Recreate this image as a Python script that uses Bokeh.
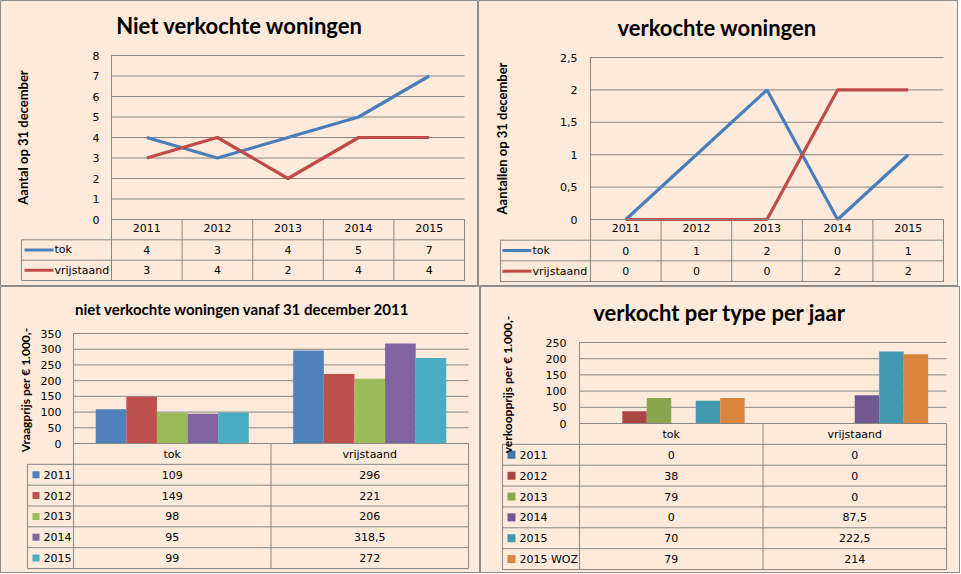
from bokeh.plotting import figure
from bokeh.models import Range1d, LinearAxis, FixedTicker, Label
from bokeh.layouts import column, row
from bokeh.core.properties import value
from bokeh.embed import file_html
from bokeh.resources import INLINE

# ---------------- data ----------------
years = ["2011", "2012", "2013", "2014", "2015"]
niet_tok = [4, 3, 4, 5, 7]
niet_vrij = [3, 4, 2, 4, 4]
niet_ticks = [0, 1, 2, 3, 4, 5, 6, 7, 8]

verk_tok = [0, 1, 2, 0, 1]
verk_vrij = [0, 0, 0, 2, 2]
verk_ticks = [0, 0.5, 1, 1.5, 2, 2.5]

line_series = ["tok", "vrijstaand"]

types = ["tok", "vrijstaand"]
vraag_years = ["2011", "2012", "2013", "2014", "2015"]
vraag_tok = [109, 149, 98, 95, 99]
vraag_vrij = [296, 221, 206, 318.5, 272]
vraag_ticks = [0, 50, 100, 150, 200, 250, 300, 350]

koop_years = ["2011", "2012", "2013", "2014", "2015", "2015 WOZ"]
koop_tok = [0, 38, 79, 0, 70, 79]
koop_vrij = [0, 0, 0, 87.5, 222.5, 214]
koop_ticks = [0, 50, 100, 150, 200, 250]

# ---------------- style ----------------
line_colors = ["#4A7EBB", "#BE4B48"]
vraag_colors = ["#4F81BD", "#C0504D", "#9BBB59", "#8064A2", "#4BACC6"]
koop_colors = ["#4572A7", "#AA4643", "#89A54E", "#71588F", "#4198AF", "#DB843D"]

BG = "#FDEADA"
GRID = "#868686"
EDGE = "#8C8C8C"
NUM_FONT = "DejaVu Sans"
TITLE_FONT = "Lato"


def nl(v):
    return ("%g" % v).replace(".", ",")


class Panel:
    """One chart block: the frame covers the whole block; the table lives below y=0."""

    def __init__(self, W, H, left, right, n, py0, pytop, ymax, row_h):
        self.n = n
        self.ymax = ymax
        self.s = (right - left) / n
        self.x0 = -0.5 - left / self.s
        self.t = (py0 - pytop) / ymax
        self.ytop = ymax + pytop / self.t
        p = figure(width=W, height=H,
                   x_range=Range1d(self.x0, self.x0 + W / self.s),
                   y_range=Range1d(self.ytop - H / self.t, self.ytop),
                   x_axis_type=None, y_axis_type=None, title=None,
                   min_border=0, toolbar_location=None, output_backend="svg",
                   background_fill_color=BG, border_fill_color=BG,
                   outline_line_color=EDGE, outline_line_width=1)
        p.extra_y_ranges = {"tbl": Range1d(-(H - py0) / row_h, py0 / row_h)}
        self.p = p

    def X(self, px):
        return self.x0 + px / self.s

    def Y(self, py):
        return self.ytop - py / self.t

    def title(self, text, cx, cy, size):
        self.p.add_layout(Label(x=self.X(cx), y=self.Y(cy), text=text,
                                text_font=TITLE_FONT, text_font_style="bold",
                                text_font_size=size, text_color="black",
                                text_align="center", text_baseline="middle"))

    def grid(self, ticks):
        n = self.n
        self.p.segment(x0=[-0.5] * len(ticks), x1=[n - 0.5] * len(ticks),
                       y0=ticks, y1=ticks, line_color=GRID, line_width=1)

    def axes(self, ticks, cats, label, lsize, mls, als):
        n = self.n
        yax = LinearAxis(fixed_location=-0.5, bounds=(0, self.ymax),
                         ticker=FixedTicker(ticks=ticks),
                         major_label_overrides={t: nl(t) for t in ticks},
                         axis_label=label, axis_label_standoff=als,
                         axis_label_text_font=TITLE_FONT,
                         axis_label_text_font_style="bold",
                         axis_label_text_font_size=lsize,
                         axis_label_text_color="black",
                         major_label_text_font=NUM_FONT,
                         major_label_text_font_size="11px",
                         major_label_text_color="black",
                         major_label_standoff=mls,
                         major_tick_in=0, major_tick_out=0,
                         minor_tick_in=0, minor_tick_out=0,
                         axis_line_color=GRID, axis_line_width=1)
        self.p.add_layout(yax, "left")
        xax = LinearAxis(fixed_location=0, bounds=(-0.5, n - 0.5),
                         ticker=FixedTicker(ticks=list(range(n))),
                         major_label_overrides={i: c for i, c in enumerate(cats)},
                         major_label_text_font=NUM_FONT,
                         major_label_text_font_size="11px",
                         major_label_text_color="black",
                         major_label_standoff=4,
                         major_tick_in=0, major_tick_out=0,
                         minor_tick_in=0, minor_tick_out=0,
                         axis_line_color=GRID, axis_line_width=1)
        self.p.add_layout(xax, "below")

    def table(self, nrows, tl_px):
        n = self.n
        tl = self.X(tl_px)
        bottom = -(nrows + 1)
        hy = [-(r + 1) for r in range(nrows + 1)]
        self.p.segment(x0=[tl] * len(hy), x1=[n - 0.5] * len(hy), y0=hy, y1=hy,
                       line_color=GRID, line_width=1, y_range_name="tbl")
        vx = [k - 0.5 for k in range(n + 1)]
        self.p.segment(x0=vx, x1=vx, y0=[0] * len(vx), y1=[bottom] * len(vx),
                       line_color=GRID, line_width=1, y_range_name="tbl")
        self.p.segment(x0=[tl], x1=[tl], y0=[-1], y1=[bottom],
                       line_color=GRID, line_width=1, y_range_name="tbl")
        self.p.segment(x0=[-0.5], x1=[-0.5], y0=[self.ymax], y1=[0],
                       line_color=GRID, line_width=1)

    def row_values(self, k, vals):
        self.p.text(x=list(range(len(vals))), y=[-(k + 1.5)] * len(vals),
                    text=[nl(v) for v in vals], y_range_name="tbl",
                    text_font=value(NUM_FONT), text_font_size=value("11px"),
                    text_color="black", text_align="center", text_baseline="middle")

    def row_label(self, k, text, px):
        self.p.text(x=[self.X(px)], y=[-(k + 1.5)], text=[text], y_range_name="tbl",
                    text_font=value(NUM_FONT), text_font_size=value("11px"),
                    text_color="black", text_align="left", text_baseline="middle")


# ---------------- panel 1: Niet verkochte woningen ----------------
P1 = Panel(478, 286, 111, 464, len(years), 219, 55, niet_ticks[-1], 20.33)
P1.grid(niet_ticks)
P1.table(len(line_series), 21)
xs = list(range(len(years)))
for k, (name, vals) in enumerate(zip(line_series, [niet_tok, niet_vrij])):
    P1.p.line(xs, vals, line_color=line_colors[k], line_width=3.2)
    P1.p.segment(x0=[P1.X(24)], x1=[P1.X(53)], y0=[-(k + 1.5)], y1=[-(k + 1.5)],
                 line_color=line_colors[k], line_width=3, y_range_name="tbl")
    P1.row_label(k, name, 54)
    P1.row_values(k, vals)
P1.axes(niet_ticks, years, "Aantal op 31 december", "13px", 12, 59)
P1.title("Niet verkochte woningen", 239, 25, "22px")

# ---------------- panel 2: verkochte woningen ----------------
P2 = Panel(480, 286, 112, 465, len(years), 219, 57, verk_ticks[-1], 20.67)
P2.grid(verk_ticks)
P2.table(len(line_series), 22)
for k, (name, vals) in enumerate(zip(line_series, [verk_tok, verk_vrij])):
    P2.p.line(xs, vals, line_color=line_colors[k], line_width=3.2)
    P2.p.segment(x0=[P2.X(24)], x1=[P2.X(53)], y0=[-(k + 1.5)], y1=[-(k + 1.5)],
                 line_color=line_colors[k], line_width=3, y_range_name="tbl")
    P2.row_label(k, name, 54)
    P2.row_values(k, vals)
P2.axes(verk_ticks, years, "Aantallen op 31 december", "13px", 13, 47)
P2.title("verkochte woningen", 238.5, 27, "22px")

# ---------------- panel 3: vraagprijs ----------------
P3 = Panel(480, 287, 73, 468, len(types), 157, 47, vraag_ticks[-1], 20.83)
P3.grid(vraag_ticks)
P3.table(len(vraag_years), 27)
bw3 = 0.775 / len(vraag_years)
for k, yr in enumerate(vraag_years):
    vals = [vraag_tok[k], vraag_vrij[k]]
    off = (k - (len(vraag_years) - 1) / 2) * bw3
    P3.p.vbar(x=[i + off for i in range(len(types))], top=vals, bottom=0, width=bw3,
              fill_color=vraag_colors[k], line_color=None)
    P3.p.scatter(x=[P3.X(35.5)], y=[-(k + 1.5)], marker="square", size=7,
                 fill_color=vraag_colors[k], line_color=None, y_range_name="tbl")
    P3.row_label(k, yr, 43)
    P3.row_values(k, vals)
P3.axes(vraag_ticks, types, "Vraagprijs  per € 1.000,-", "12px", 12, 5)
P3.title("niet verkochte woningen vanaf 31 december 2011", 242, 22, "15px")

# ---------------- panel 4: verkoopprijs ----------------
P4 = Panel(480, 287, 99, 466, len(types), 137, 56, koop_ticks[-1], 20.86)
P4.grid(koop_ticks)
P4.table(len(koop_years), 22)
bw4 = 0.8 / len(koop_years)
for k, yr in enumerate(koop_years):
    vals = [koop_tok[k], koop_vrij[k]]
    off = (k - (len(koop_years) - 1) / 2) * bw4
    P4.p.vbar(x=[i + off for i in range(len(types))], top=vals, bottom=0, width=bw4,
              fill_color=koop_colors[k], line_color=None)
    P4.p.scatter(x=[P4.X(31)], y=[-(k + 1.5)], marker="square", size=8,
                 fill_color=koop_colors[k], line_color=None, y_range_name="tbl")
    P4.row_label(k, yr, 39)
    P4.row_values(k, vals)
P4.axes(koop_ticks, types, "verkoopprijs  per € 1.000,-", "12px", 13, 28)
P4.title("verkocht per type per jaar", 239, 26, "22px")

layout = column(row(P1.p, P2.p), row(P3.p, P4.p))
open("out.html", "w").write(file_html(layout, INLINE))
